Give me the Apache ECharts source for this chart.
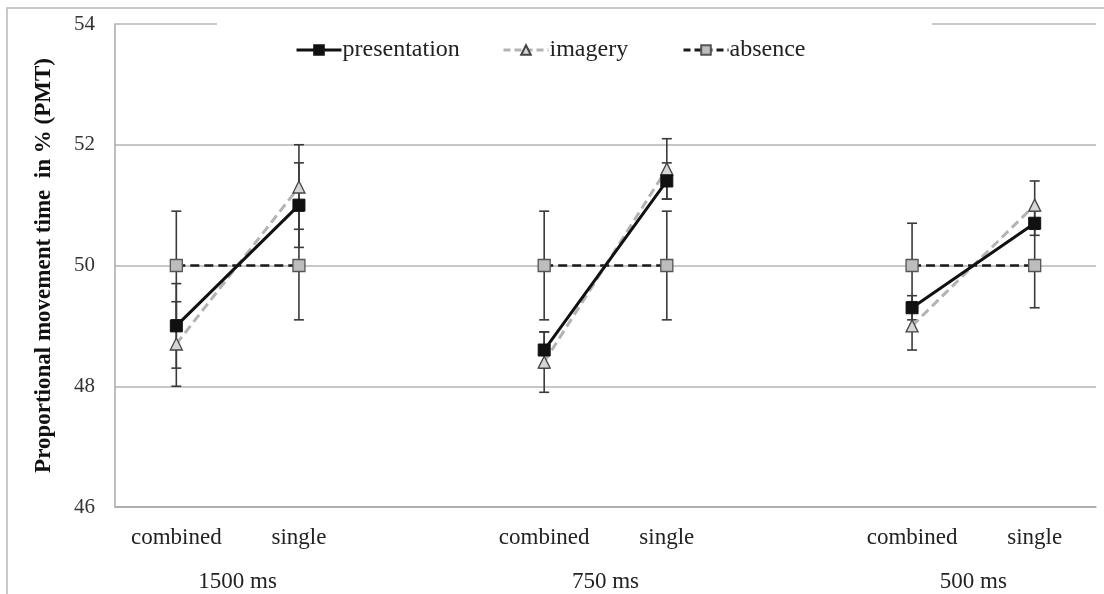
<!DOCTYPE html>
<html>
<head>
<meta charset="utf-8">
<script src="https://cdn.jsdelivr.net/npm/echarts@6/dist/echarts.min.js"></script>
<style>html,body{margin:0;padding:0;background:#fff}#c{width:1104px;height:594px}</style>
</head>
<body>
<div id="c"></div>
<script>
const categories = ['combined', 'single', '', 'combined', 'single', '', 'combined', 'single'];
const groupLabels = ['1500 ms', '750 ms', '500 ms'];
const yTicks = [46, 48, 50, 52, 54];
const presentation = [49.0, 51.0, null, 48.6, 51.4, null, 49.3, 50.7];
const imagery = [48.7, 51.3, null, 48.4, 51.6, null, 49.0, 51.0];
const absence = [50, 50, null, 50, 50, null, 50, 50];
const presentationErr = [0.7, 0.7, null, 0.3, 0.3, null, 0.2, 0.2];
const imageryErr = [0.7, 0.7, null, 0.5, 0.5, null, 0.4, 0.4];
const absenceErr = [0.9, 0.9, null, 0.9, 0.9, null, 0.7, 0.7];

const FONT = 'Liberation Serif';
function errData(vals, errs) {
  const out = [];
  vals.forEach((v, i) => { if (v != null) out.push([i, v - errs[i], v + errs[i]]); });
  return out;
}
function errSeries(vals, errs) {
  return {
    type: 'custom', z: 1, silent: true,
    encode: { x: 0, y: [1, 2] },
    data: errData(vals, errs),
    renderItem: function (params, api) {
      const x = api.value(0);
      const top = api.coord([x, api.value(2)]);
      const bot = api.coord([x, api.value(1)]);
      const c = 5;
      const st = { stroke: '#3a3a3a', lineWidth: 1.6 };
      return { type: 'group', children: [
        { type: 'line', shape: { x1: top[0], y1: top[1], x2: bot[0], y2: bot[1] }, style: st },
        { type: 'line', shape: { x1: top[0] - c, y1: top[1], x2: top[0] + c, y2: top[1] }, style: st },
        { type: 'line', shape: { x1: bot[0] - c, y1: bot[1], x2: bot[0] + c, y2: bot[1] }, style: st }
      ]};
    }
  };
}
const labelMap = { 1: groupLabels[0], 4: groupLabels[1], 7: groupLabels[2] };
function legendFor(name, left, lineColor, dash) {
  return {
    left: left, top: 33, itemWidth: 45, itemHeight: 12, itemGap: 0,
    data: [name],
    lineStyle: { width: 3, color: lineColor, type: dash },
    textStyle: { fontFamily: FONT, fontSize: 24, color: '#222', padding: [0, 0, 0, -4] }
  };
}
const chart = echarts.init(document.getElementById('c'));
chart.setOption({
  animation: false,
  backgroundColor: '#fff',
  grid: { left: 115, right: 8, top: 24, bottom: 87 },
  graphic: [
    { type: 'rect', z: -10, shape: { x: 7, y: 8, width: 1300, height: 800 }, style: { fill: 'none', stroke: '#b8b8b8', lineWidth: 1.5 } },
    { type: 'rect', z: 1, shape: { x: 217, y: 18, width: 715, height: 12 }, style: { fill: '#fff' } }
  ],
  legend: [
    legendFor('presentation', 290, '#111', 'solid'),
    legendFor('imagery', 497, '#b3b3b3', [7, 4]),
    legendFor('absence', 677, '#1a1a1a', [7, 4])
  ],
  xAxis: [
    {
      type: 'category', data: categories,
      axisLine: { lineStyle: { color: '#a8a8a8', width: 1.5 } },
      axisTick: { show: false },
      axisLabel: { fontFamily: FONT, fontSize: 23, color: '#222', margin: 19, interval: 0 }
    },
    {
      type: 'value', min: 0, max: 8, interval: 1, position: 'bottom',
      axisLine: { show: false }, axisTick: { show: false }, splitLine: { show: false },
      axisLabel: { fontFamily: FONT, fontSize: 23, color: '#222', margin: 63,
        formatter: v => labelMap[v] || '' }
    }
  ],
  yAxis: {
    type: 'value', min: yTicks[0], max: yTicks[yTicks.length - 1], interval: 2,
    axisLine: { show: true, lineStyle: { color: '#a8a8a8', width: 1.5 } },
    axisTick: { show: false },
    splitLine: { lineStyle: { color: '#b4b4b4', width: 1.5 } },
    axisLabel: { fontFamily: FONT, fontSize: 21, color: '#333', margin: 20 },
    name: 'Proportional movement time  in % (PMT)',
    nameLocation: 'middle', nameGap: 59,
    nameTextStyle: { fontFamily: FONT, fontSize: 23, fontWeight: 'bold', color: '#111' }
  },
  series: [
    errSeries(absence, absenceErr),
    errSeries(presentation, presentationErr),
    errSeries(imagery, imageryErr),
    {
      name: 'absence', type: 'line', z: 3, data: absence, connectNulls: false,
      symbol: 'rect', symbolSize: 12,
      lineStyle: { color: '#1a1a1a', width: 2.5, type: [9, 5] },
      itemStyle: { color: '#bdbdbd', borderColor: '#555', borderWidth: 1.3 }
    },
    {
      name: 'imagery', type: 'line', z: 4, data: imagery, connectNulls: false,
      symbol: 'triangle', symbolSize: 12,
      lineStyle: { color: '#b3b3b3', width: 3, type: [9, 5] },
      itemStyle: { color: '#d6d6d6', borderColor: '#444', borderWidth: 1.3 }
    },
    {
      name: 'presentation', type: 'line', z: 5, data: presentation, connectNulls: false,
      symbol: 'rect', symbolSize: 12,
      lineStyle: { color: '#111', width: 3 },
      itemStyle: { color: '#111', borderColor: '#111', borderWidth: 1 }
    }
  ]
});
</script>
</body>
</html>
